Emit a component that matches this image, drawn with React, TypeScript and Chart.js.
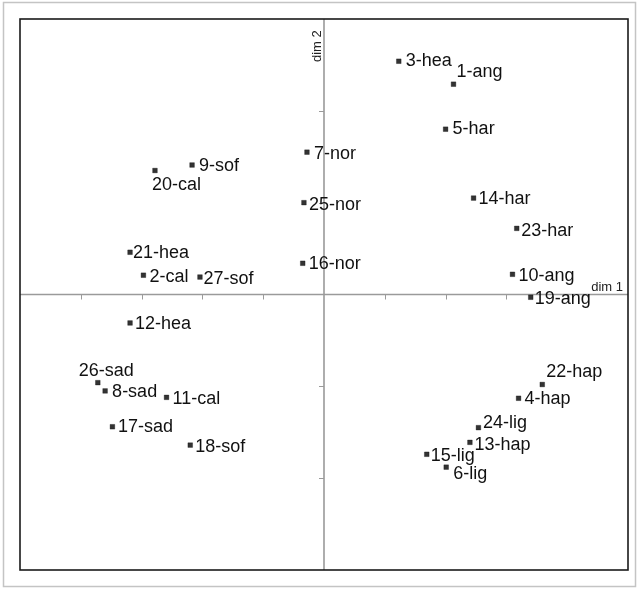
import React, { useEffect, useRef } from "react";
import { Chart, registerables } from "chart.js";

Chart.register(...registerables);

const pointLabels = [
  "3-hea", "1-ang", "5-har", "7-nor", "9-sof", "20-cal", "25-nor", "14-har", "23-har",
  "21-hea", "16-nor", "2-cal", "27-sof", "10-ang", "19-ang", "12-hea", "26-sad", "8-sad",
  "11-cal", "17-sad", "18-sof", "22-hap", "4-hap", "24-lig", "13-hap", "15-lig", "6-lig",
];
const dim1Values = [
  1.23, 2.13, 2.0, -0.28, -2.17, -2.78, -0.33, 2.46, 3.17,
  -3.19, -0.35, -2.97, -2.04, 3.1, 3.4, -3.19, -3.72, -3.6,
  -2.59, -3.48, -2.2, 3.59, 3.2, 2.54, 2.4, 1.69, 2.01,
];
const dim2Values = [
  2.54, 2.29, 1.8, 1.55, 1.41, 1.35, 1.0, 1.05, 0.72,
  0.46, 0.34, 0.21, 0.19, 0.22, -0.03, -0.31, -0.96, -1.05,
  -1.12, -1.44, -1.64, -0.98, -1.13, -1.45, -1.61, -1.74, -1.88,
];
const axisMin1 = -5, axisMax1 = 5;
const axisMin2 = -3, axisMax2 = 3;
const axisTitle1 = "dim 1";
const axisTitle2 = "dim 2";

// label placement style: [dx to text start, dy of text centre]
const labelOffsets: Record<string, [number, number]> = {
  "3-hea": [7, 0], "1-ang": [3, -12], "5-har": [7, 0], "7-nor": [7, 1.5], "9-sof": [7, 1.5],
  "20-cal": [-3, 15], "25-nor": [5, 2.5], "14-har": [5, 1], "23-har": [4.5, 2.5],
  "21-hea": [3, 1], "16-nor": [6, 1], "2-cal": [6, 1.5], "27-sof": [3.5, 2], "10-ang": [6, 2],
  "19-ang": [4, 2], "12-hea": [5, 1.5], "26-sad": [-19, -12], "8-sad": [7, 1.5],
  "11-cal": [6, 1.5], "17-sad": [5.5, 0], "18-sof": [5, 1.5], "22-hap": [4, -12],
  "4-hap": [6, 0.5], "24-lig": [4.5, -5], "13-hap": [4.5, 2.5], "15-lig": [4, 1.5], "6-lig": [7, 7],
};

const FONT = '"Liberation Sans", Arial, sans-serif';

const decorPlugin = {
  id: "decor",
  beforeDraw(chart: any) {
    const ctx = chart.ctx;
    ctx.save();
    ctx.fillStyle = "#ffffff";
    ctx.fillRect(0, 0, chart.width, chart.height);
    ctx.strokeStyle = "#c4c4c4";
    ctx.lineWidth = 1.5;
    ctx.strokeRect(3.5, 2.5, chart.width - 6, chart.height - 5);
    ctx.restore();
  },
  beforeDatasetsDraw(chart: any) {
    const ctx = chart.ctx;
    const { left, right, top, bottom } = chart.chartArea;
    const xs = chart.scales.x;
    const ys = chart.scales.y;
    const x0 = xs.getPixelForValue(0);
    const y0 = ys.getPixelForValue(0);
    ctx.save();
    ctx.strokeStyle = "#9a9a9a";
    ctx.lineWidth = 1.6;
    ctx.beginPath();
    ctx.moveTo(left, y0);
    ctx.lineTo(right, y0);
    ctx.moveTo(x0, top);
    ctx.lineTo(x0, bottom);
    ctx.stroke();
    ctx.lineWidth = 1;
    ctx.beginPath();
    for (let v = axisMin1 + 1; v < axisMax1; v++) {
      if (v === 0) continue;
      const px = Math.round(xs.getPixelForValue(v)) + 0.5;
      ctx.moveTo(px, y0);
      ctx.lineTo(px, y0 + 5);
    }
    for (let v = axisMin2 + 1; v < axisMax2; v++) {
      if (v === 0) continue;
      const py = Math.round(ys.getPixelForValue(v)) + 0.5;
      ctx.moveTo(x0, py);
      ctx.lineTo(x0 - 5, py);
    }
    ctx.stroke();
    ctx.strokeStyle = "#1a1a1a";
    ctx.lineWidth = 1.6;
    ctx.strokeRect(left, top, right - left, bottom - top);
    ctx.fillStyle = "#222";
    ctx.font = `13px ${FONT}`;
    ctx.textAlign = "right";
    ctx.textBaseline = "alphabetic";
    ctx.fillText(axisTitle1, right - 5, y0 - 4);
    ctx.save();
    ctx.translate(x0 - 3, top + 43);
    ctx.rotate(-Math.PI / 2);
    ctx.textAlign = "left";
    ctx.fillText(axisTitle2, 0, 0);
    ctx.restore();
    ctx.restore();
  },
  afterDatasetsDraw(chart: any) {
    const ctx = chart.ctx;
    const meta = chart.getDatasetMeta(0);
    ctx.save();
    ctx.fillStyle = "#111";
    ctx.font = `18px ${FONT}`;
    ctx.textAlign = "left";
    ctx.textBaseline = "middle";
    meta.data.forEach((el: any, i: number) => {
      const lab = pointLabels[i];
      const off = labelOffsets[lab] || [6, 1];
      ctx.fillText(lab, el.x + off[0], el.y + off[1]);
    });
    ctx.restore();
  },
};

export default function App() {
  const ref = useRef<HTMLCanvasElement | null>(null);
  useEffect(() => {
    document.body.style.margin = "0";
    const canvas = ref.current;
    if (!canvas) return;
    const chart = new Chart(canvas, {
      type: "scatter",
      data: {
        datasets: [
          {
            data: dim1Values.map((x, i) => ({ x, y: dim2Values[i] })),
            pointStyle: "rect",
            pointRadius: 3.3,
            backgroundColor: "#333333",
            borderColor: "rgba(0,0,0,0.3)",
            borderWidth: 1,
          },
        ],
      },
      options: {
        responsive: false,
        animation: false,
        devicePixelRatio: 1,
        layout: { padding: { left: 20, right: 10, top: 19, bottom: 19 } },
        plugins: { legend: { display: false }, tooltip: { enabled: false } },
        scales: {
          x: { type: "linear", min: axisMin1, max: axisMax1, display: false },
          y: { type: "linear", min: axisMin2, max: axisMax2, display: false },
        },
      },
      plugins: [decorPlugin],
    });
    return () => chart.destroy();
  }, []);
  return (
    <div style={{ width: 638, height: 589 }}>
      <canvas ref={ref} width={638} height={589} style={{ display: "block" }} />
    </div>
  );
}
